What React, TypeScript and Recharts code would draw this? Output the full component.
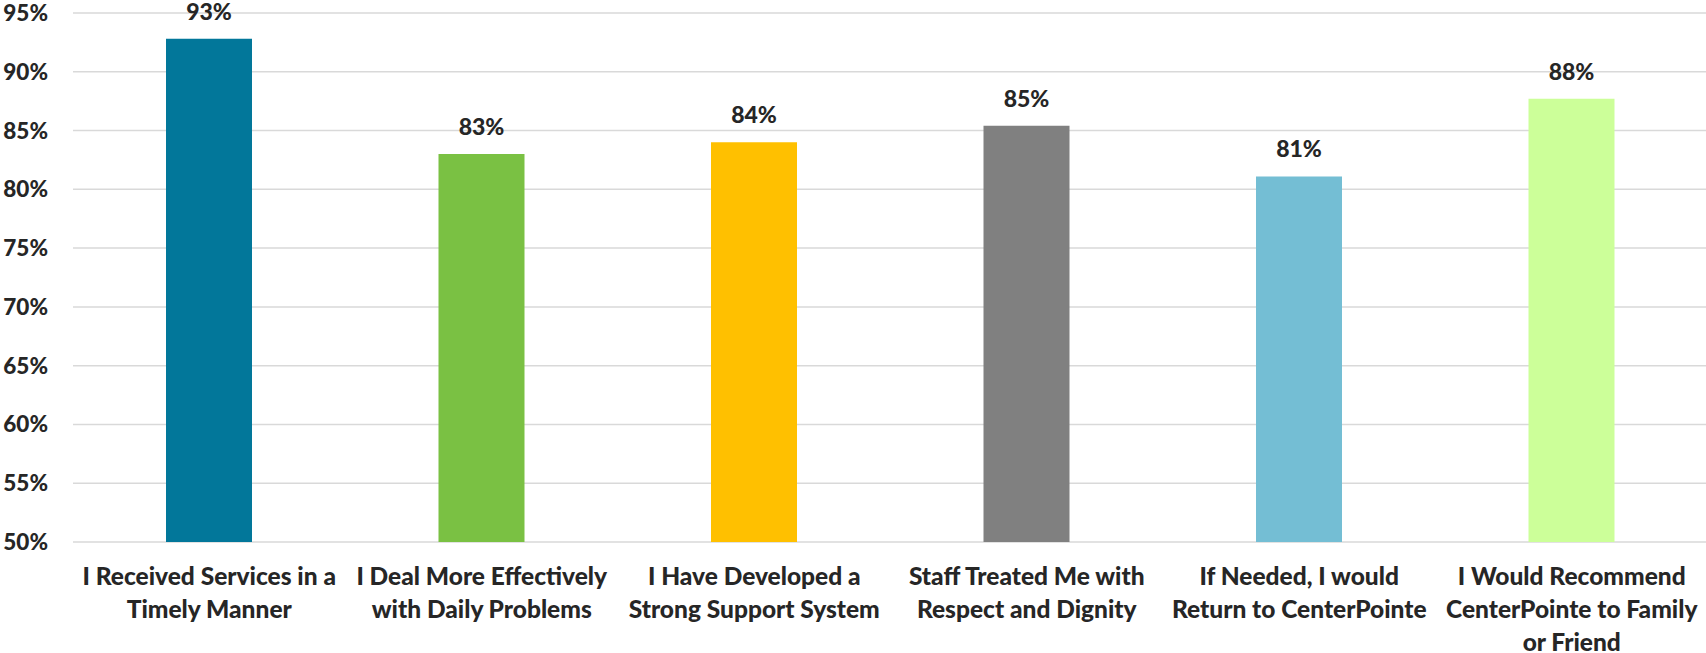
import { Bar, BarChart, CartesianGrid, Cell, LabelList, XAxis, YAxis } from "recharts";

const categories = [
  "I Received Services in a Timely Manner",
  "I Deal More Effectively with Daily Problems",
  "I Have Developed a Strong Support System",
  "Staff Treated Me with Respect and Dignity",
  "If Needed, I would Return to CenterPointe",
  "I Would Recommend CenterPointe to Family or Friend",
];

const categoryLines = [
  ["I Received Services in a", "Timely Manner"],
  ["I Deal More Effectively", "with Daily Problems"],
  ["I Have Developed a", "Strong Support System"],
  ["Staff Treated Me with", "Respect and Dignity"],
  ["If Needed, I would", "Return to CenterPointe"],
  ["I Would Recommend", "CenterPointe to Family", "or Friend"],
];

const scores = [92.8, 83.0, 84.0, 85.4, 81.1, 87.7];

const barColors = ["#02779a", "#7ac143", "#ffc000", "#808080", "#74bed4", "#ccff99"];

const yTicks = [50, 55, 60, 65, 70, 75, 80, 85, 90, 95];

const data = categories.map((name, i) => ({ name, lines: categoryLines[i], value: scores[i] }));

const FONT = "Lato, 'Open Sans', sans-serif";
const TEXT = "#262626";

function CategoryTick({ x, y, index }: any) {
  const lines = categoryLines[index] || [];
  return (
    <text x={x} y={y} textAnchor="middle" fontFamily={FONT} fontWeight={900} fontSize={24.5} fill={TEXT}>
      {lines.map((line, i) => (
        <tspan key={i} x={x} y={y + 35 + i * 33}>
          {line}
        </tspan>
      ))}
    </text>
  );
}

function PercentTick({ x, y, payload }: any) {
  return (
    <text
      x={x}
      y={y}
      dy={8}
      textAnchor="end"
      fontFamily={FONT}
      fontWeight={900}
      fontSize={22.5}
      fill={TEXT}
    >
      {`${payload.value}%`}
    </text>
  );
}

function ValueLabel({ x, y, width, value }: any) {
  return (
    <text
      x={x + width / 2}
      y={y - 19}
      textAnchor="middle"
      fontFamily={FONT}
      fontWeight={900}
      fontSize={23}
      fill={TEXT}
    >
      {`${Math.round(value)}%`}
    </text>
  );
}

export default function App() {
  return (
    <div style={{ position: "absolute", left: 0, top: 0, width: 1706, height: 653, background: "#fff" }}>
      <BarChart
        width={1706}
        height={653}
        data={data}
        margin={{ top: 13, right: -2, bottom: 0, left: 0 }}
      >
        <CartesianGrid vertical={false} stroke="#d9d9d9" strokeWidth={1.5} />
        <XAxis
          dataKey="name"
          axisLine={false}
          tickLine={false}
          interval={0}
          height={111}
          tick={<CategoryTick />}
        />
        <YAxis
          domain={[50, 95]}
          ticks={yTicks}
          axisLine={false}
          tickLine={false}
          width={73}
          tickSize={0}
          tickMargin={25}
          tick={<PercentTick />}
          allowDataOverflow
        />
        <Bar dataKey="value" barSize={86} isAnimationActive={false}>
          {data.map((d, i) => (
            <Cell key={d.name} fill={barColors[i]} />
          ))}
          <LabelList dataKey="value" content={<ValueLabel />} />
        </Bar>
      </BarChart>
    </div>
  );
}
